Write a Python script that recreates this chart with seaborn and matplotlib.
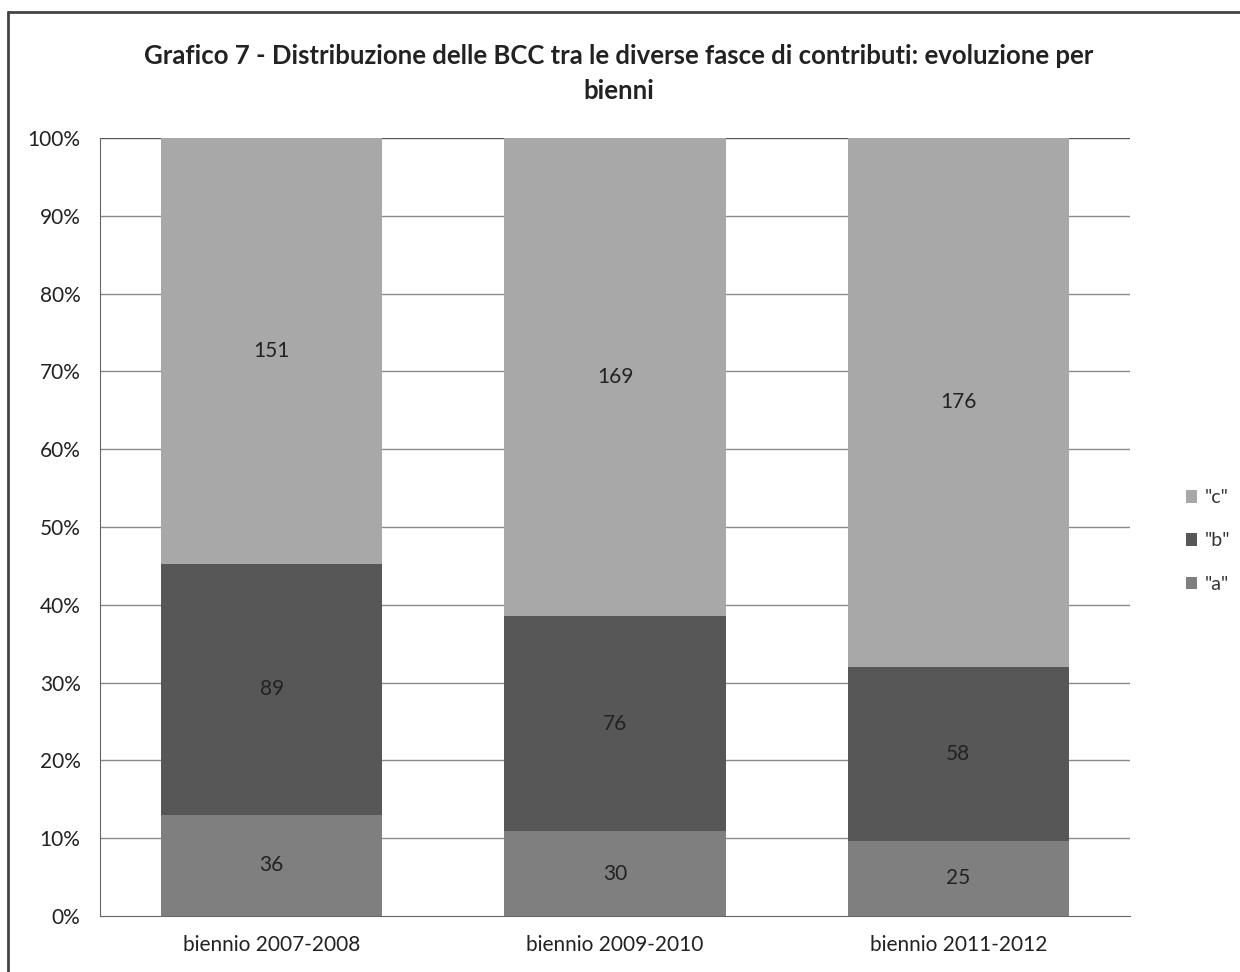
import matplotlib
matplotlib.use("Agg")
import matplotlib.pyplot as plt
import seaborn as sns
import pandas as pd
import numpy as np
from matplotlib.patches import Patch
from matplotlib.lines import Line2D

categories = ["biennio 2007-2008", "biennio 2009-2010", "biennio 2011-2012"]
series_a = [36, 30, 25]
series_b = [89, 76, 58]
series_c = [151, 169, 176]
y_ticks = [0, 10, 20, 30, 40, 50, 60, 70, 80, 90, 100]
y_tick_labels = [f"{t}%" for t in y_ticks]
title = "Grafico 7 - Distribuzione delle BCC tra le diverse fasce di contributi: evoluzione per\nbienni"

col_a = "#7f7f7f"
col_b = "#575757"
col_c = "#a8a8a8"

sns.set_style("white")
plt.rcParams['font.family'] = ['Lato', 'DejaVu Sans']

a = np.array(series_a, float)
b = np.array(series_b, float)
c = np.array(series_c, float)
tot = a + b + c
pa = a / tot * 100
pb = b / tot * 100
pc = c / tot * 100

df = pd.DataFrame({"cat": categories, "a": pa, "ab": pa + pb, "abc": pa + pb + pc})

fig = plt.figure(figsize=(12.4, 9.72), dpi=100)
ax = fig.add_axes([100/1240, 1 - 916/972, (1130-100)/1240, (916-138)/972])

for g in y_ticks[1:]:
    ax.axhline(g, color="#8a8a8a", lw=1.0, zorder=0)

w = 0.645
kw = dict(width=w, ax=ax, saturation=1, linewidth=0, edgecolor="none")
sns.barplot(data=df, x="cat", y="abc", color=col_c, zorder=2, **kw)
sns.barplot(data=df, x="cat", y="ab", color=col_b, zorder=3, **kw)
sns.barplot(data=df, x="cat", y="a", color=col_a, zorder=4, **kw)

for i in range(len(categories)):
    ax.text(i, pa[i] / 2, f"{series_a[i]}", ha="center", va="center", fontsize=15, color="#222222", zorder=6)
    ax.text(i, pa[i] + pb[i] / 2, f"{series_b[i]}", ha="center", va="center", fontsize=15, color="#222222", zorder=6)
    ax.text(i, pa[i] + pb[i] + pc[i] / 2, f"{series_c[i]}", ha="center", va="center", fontsize=15, color="#222222", zorder=6)

ax.set_ylim(0, 100)
ax.set_xlim(-0.5, 2.5)
ax.set_yticks(y_ticks)
ax.set_yticklabels(y_tick_labels, fontsize=15, color="#222222")
ax.tick_params(axis="x", labelsize=15, colors="#222222", length=0, pad=14)
ax.tick_params(axis="y", length=0, pad=14)
ax.set_xlabel("")
ax.set_ylabel("")
for s in ["top", "right"]:
    ax.spines[s].set_visible(False)
ax.spines["left"].set_color("#666666")
ax.spines["bottom"].set_color("#666666")
ax.axhline(100, color="#555555", lw=1.5, zorder=1)

fig.suptitle(title, x=0.499, y=0.955, fontsize=18.5, fontweight="bold", color="#222222", linespacing=1.55)

handles = [Patch(facecolor=col_c, edgecolor="none"), Patch(facecolor=col_b, edgecolor="none"), Patch(facecolor=col_a, edgecolor="none")]
fig.legend(handles, ['"c"', '"b"', '"a"'], loc="center left", bbox_to_anchor=(1168/1240, 1 - 541/972),
           frameon=False, fontsize=14, handlelength=0.6, handleheight=0.6, handletextpad=0.4,
           labelspacing=1.35, labelcolor="#333333")

# outer frame
fig.add_artist(Line2D([8/1240, 8/1240], [0, 1 - 12/972], transform=fig.transFigure, color="#444444", lw=2))
fig.add_artist(Line2D([8/1240, 1], [1 - 12/972, 1 - 12/972], transform=fig.transFigure, color="#444444", lw=2))

fig.savefig("out.png", dpi=100)
